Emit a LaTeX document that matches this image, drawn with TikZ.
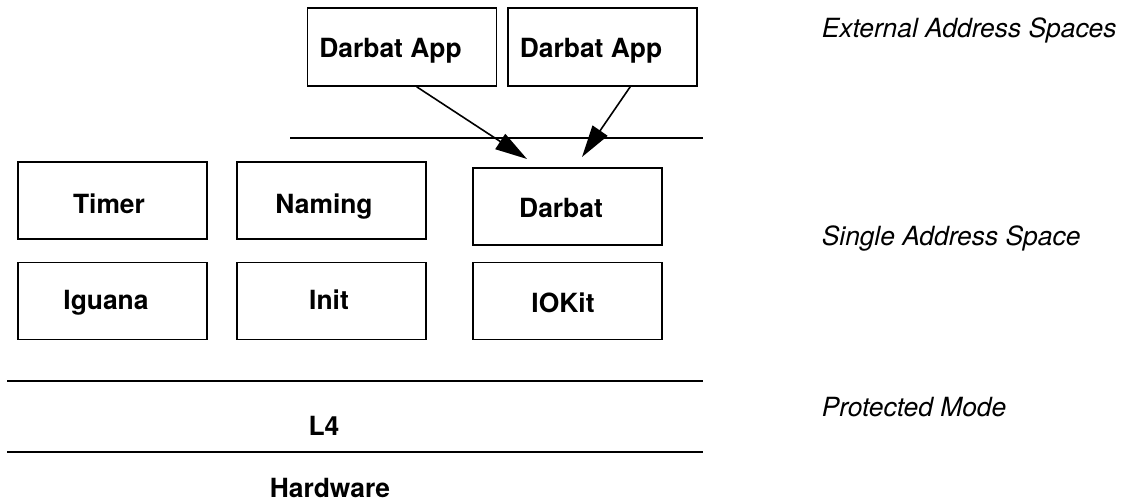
\documentclass[tikz,border=0pt]{standalone}
\usepackage{fontspec}
\setmainfont{TeX Gyre Heros}
\usetikzlibrary{arrows.meta}
\begin{document}
\begin{tikzpicture}[x=1pt,y=-1pt, line width=1.6pt,
  box/.style={draw, minimum width=189pt, minimum height=77pt, inner sep=0pt},
  lbl/.style={font=\fontsize{26.4}{30}\selectfont\bfseries, anchor=base, inner sep=0pt},
  side/.style={font=\fontsize{26.4}{30}\selectfont\itshape, anchor=base west, inner sep=0pt},
  arr/.style={-{Triangle[length=32pt,width=18pt]}}]
\useasboundingbox (0,0) rectangle (1124,503);

% boxes
\node[box, minimum height=78pt] (app1) at (402,47) {};
\node[box, minimum height=78pt] (app2) at (602.5,47) {};
\node[box] (timer)  at (112.5,200.5) {};
\node[box] (naming) at (331.5,200.5) {};
\node[box] (darbat) at (567.5,206.5) {};
\node[box] (iguana) at (112.5,301) {};
\node[box] (init)   at (331.5,301) {};
\node[box] (iokit)  at (567.5,301) {};

% box texts
\node[lbl] (app1t)   at (390.5,57.5) {Darbat App};
\node[lbl] (app2t)   at (591,57.5)   {Darbat App};
\node[lbl] (timert)  at (109,213.5)  {Timer};
\node[lbl] (namingt) at (324,213.5)  {Naming};
\node[lbl] (darbatt) at (561,217.5)  {Darbat};
\node[lbl] (iguanat) at (106,309.5)  {Iguana};
\node[lbl] (initt)   at (329,309.5)  {Init};
\node[lbl] (iokitt)  at (563,312.5)  {IOKit};
\node[lbl] (l4)      at (324,435.5)  {L4};
\node[lbl] (hw)      at (330,497)    {Hardware};

% side labels
\node[side] (ext)  at (821,38)  {External Address Spaces};
\node[side] (sas)  at (821,245) {Single Address Space};
\node[side] (prot) at (821,416) {Protected Mode};

% separator lines
\coordinate (s0a) at (290,138); \coordinate (s0b) at (703,138);
\coordinate (s1a) at (7,381);   \coordinate (s1b) at (703,381);
\coordinate (s2a) at (7,452);   \coordinate (s2b) at (703,452);
\draw (s0a) -- (s0b);
\draw (s1a) -- (s1b);
\draw (s2a) -- (s2b);

% arrows
\coordinate (t1) at (527,159);
\coordinate (t2) at (582,157);
\draw[arr] ([xshift=110pt]app1.south west) -- (t1);
\draw[arr] ([xshift=123pt]app2.south west) -- (t2);
\end{tikzpicture}
\end{document}
